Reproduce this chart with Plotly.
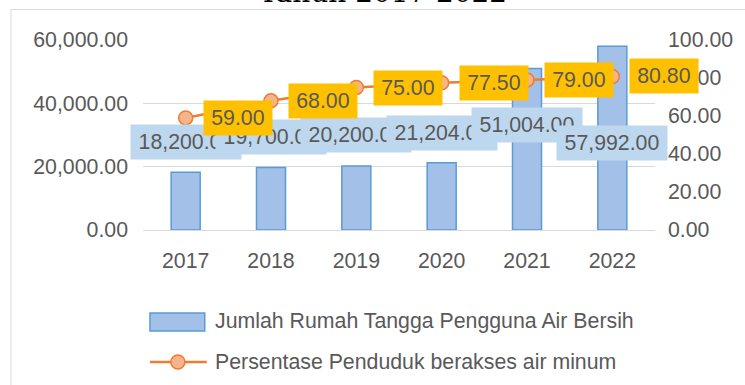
import plotly.graph_objects as go

# ---- data ----
years = ["2017", "2018", "2019", "2020", "2021", "2022"]
households = [18200, 19700, 20200, 21204, 51004, 57992]      # Jumlah Rumah Tangga Pengguna Air Bersih
access_pct = [59.00, 68.00, 75.00, 77.50, 79.00, 80.80]       # Persentase Penduduk berakses air minum
left_ticks = [0, 20000, 40000, 60000]
right_ticks = [0, 20, 40, 60, 80, 100]

# vertical placement of the household value boxes (left-axis units)
household_label_y = [27800, 29400, 30000, 30600, 33200, 27500]

# category slots along the x axis
xpos = list(range(len(years)))

# ---- layout geometry ----
W, H = 745, 385
ML, MR, MT, MB = 143, 88, 40, 155
PW, PH = W - ML - MR, H - MT - MB


def px_x(px):
    return (px - ML) / PW


def px_y(py):
    return (H - MB - py) / PH


GREY_TXT = "#595959"
GRID = "#D9D9D9"
BAR_FILL = "#A2C0E8"
BAR_LINE = "#5B9BD5"
LINE_COL = "#ED7D31"
MARK_FILL = "#F6B48A"
BLUE_BOX = "#BDD7EE"
GOLD_BOX = "#FFC000"
FONT = "Liberation Sans"
FS = 21.3

fig = go.Figure()

fig.add_trace(go.Bar(
    x=xpos, y=households,
    name="Jumlah Rumah Tangga Pengguna Air Bersih",
    marker=dict(color=BAR_FILL, line=dict(color=BAR_LINE, width=1.5)),
    showlegend=False, yaxis="y",
))

fig.add_trace(go.Scatter(
    x=xpos, y=access_pct,
    name="Persentase Penduduk berakses air minum",
    mode="lines+markers",
    line=dict(color=LINE_COL, width=2.5),
    marker=dict(size=14, color=MARK_FILL, line=dict(color=LINE_COL, width=1.5)),
    showlegend=False, yaxis="y2",
))

annotations = []

# household value boxes (later boxes sit on top of earlier ones)
for xi, v, ly in zip(xpos, households, household_label_y):
    annotations.append(dict(
        x=xi, y=ly, xref="x", yref="y",
        text=f"{v:,.2f}", showarrow=False,
        font=dict(family=FONT, size=FS, color=GREY_TXT),
        bgcolor=BLUE_BOX, width=106, height=30, borderpad=2, borderwidth=1,
        bordercolor="rgba(0,0,0,0)", xanchor="center", yanchor="middle",
    ))

# percentage boxes, to the right of each point
for xi, v in zip(xpos, access_pct):
    annotations.append(dict(
        x=xi, y=v, xref="x", yref="y2",
        text=f"{v:.2f}", showarrow=False, xshift=52,
        font=dict(family=FONT, size=FS, color=GREY_TXT),
        bgcolor=GOLD_BOX, width=64, height=30, borderpad=2, borderwidth=1,
        bordercolor="rgba(0,0,0,0)", xanchor="center", yanchor="middle",
    ))

# heading above the chart frame
annotations.append(dict(
    x=px_x(384), y=px_y(11), xref="paper", yref="paper",
    text="Tahun 2017-2022", showarrow=False,
    font=dict(family="DejaVu Serif", size=28, color="#000000"),
    xanchor="center", yanchor="bottom",
))

# legend texts
annotations.append(dict(
    x=px_x(213), y=px_y(321), xref="paper", yref="paper",
    text="Jumlah Rumah Tangga Pengguna Air Bersih", showarrow=False,
    font=dict(family=FONT, size=FS, color=GREY_TXT),
    xanchor="left", yanchor="middle",
))
annotations.append(dict(
    x=px_x(213), y=px_y(362), xref="paper", yref="paper",
    text="Persentase Penduduk berakses air minum", showarrow=False,
    font=dict(family=FONT, size=FS, color=GREY_TXT),
    xanchor="left", yanchor="middle",
))

shapes = [
    # chart frame
    dict(type="rect", xref="paper", yref="paper",
         x0=px_x(10.5), x1=px_x(800), y0=px_y(420), y1=px_y(9.5),
         line=dict(color=GRID, width=1), fillcolor="rgba(0,0,0,0)", layer="below"),
    # legend swatches
    dict(type="rect", xref="paper", yref="paper",
         x0=px_x(150), x1=px_x(205), y0=px_y(331), y1=px_y(313),
         line=dict(color=BAR_LINE, width=1.5), fillcolor=BAR_FILL),
    dict(type="line", xref="paper", yref="paper",
         x0=px_x(150), x1=px_x(207), y0=px_y(362), y1=px_y(362),
         line=dict(color=LINE_COL, width=2.5)),
    dict(type="circle", xref="paper", yref="paper",
         xsizemode="pixel", ysizemode="pixel",
         xanchor=px_x(178), yanchor=px_y(362), x0=-7, x1=7, y0=-7, y1=7,
         line=dict(color=LINE_COL, width=1.5), fillcolor=MARK_FILL),
]

fig.update_layout(
    width=W, height=H,
    margin=dict(l=ML, r=MR, t=MT, b=MB, pad=0),
    paper_bgcolor="white", plot_bgcolor="white",
    bargap=0.66,
    showlegend=False,
    font=dict(family=FONT, size=FS, color=GREY_TXT),
    xaxis=dict(
        range=[-0.5, len(years) - 0.5], autorange=False,
        tickvals=xpos, ticktext=years,
        showgrid=False, showline=False, zeroline=False,
        ticks="", ticklabelstandoff=16,
        tickfont=dict(family=FONT, size=FS, color=GREY_TXT),
    ),
    yaxis=dict(
        range=[0, 60000], autorange=False, tickvals=left_ticks, tickformat=",.2f",
        showgrid=True, gridcolor=GRID, gridwidth=1,
        zeroline=True, zerolinecolor=GRID, zerolinewidth=1,
        showline=False, ticks="", ticklabelstandoff=14,
        tickfont=dict(family=FONT, size=FS, color=GREY_TXT),
    ),
    yaxis2=dict(
        range=[0, 100], autorange=False, tickvals=right_ticks, tickformat=".2f",
        overlaying="y", side="right",
        showgrid=False, zeroline=False, showline=False,
        ticks="", ticklabelstandoff=12,
        tickfont=dict(family=FONT, size=FS, color=GREY_TXT),
    ),
    annotations=annotations,
    shapes=shapes,
)

fig.write_html("out.html")
